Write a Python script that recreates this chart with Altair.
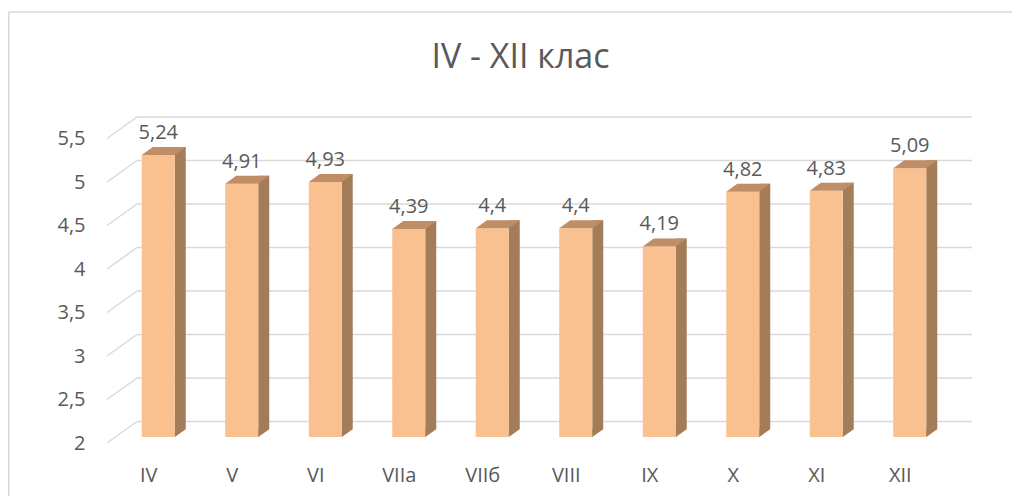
import altair as alt
import pandas as pd

# ---- data ----
categories = ["IV", "V", "VI", "VIIа", "VIIб", "VIII", "IX", "X", "XI", "XII"]
values = [5.24, 4.91, 4.93, 4.39, 4.4, 4.4, 4.19, 4.82, 4.83, 5.09]
value_labels = [str(v).replace(".", ",") for v in values]
y_ticks = [2, 2.5, 3, 3.5, 4, 4.5, 5, 5.5]
title_text = "IV - XII клас"

# ---- style ----
FONT = "Open Sans"
FS = 20
TXT = "#595959"
GRID = "#D9D9D9"
FRONT = "#F9C18F"
SIDE = "#A37C59"
TOP = "#C08E66"

W, H = 835, 304.5
L, T, R, B = 99, 130.5, 70, 53

DX, DY = 30, -21.5        # depth of the back wall
BX, BY = 9.5, -6           # bar front offset from front plane
FW, SW, SD = 33, 11, 8     # front width, side width, side depth

bars = pd.DataFrame({"cat": categories, "value": values, "label": value_labels})
ticks = pd.DataFrame({"value": y_ticks})
one = pd.DataFrame({"value": [2]})

xs = alt.Scale(domain=categories, paddingInner=0, paddingOuter=0)
ys = alt.Scale(domain=[2, 5.5], nice=False, zero=False)

x_axis = alt.Axis(labelFont=FONT, labelFontSize=FS, labelColor=TXT,
                  labelAngle=0, ticks=False, domain=False, grid=False,
                  labelPadding=22)
y_axis = alt.Axis(values=y_ticks, format="~g", labelFont=FONT, labelFontSize=FS,
                  labelColor=TXT, ticks=False, domain=False, grid=False,
                  labelPadding=22,
                  labelExpr="replace(datum.label, '.', ',')")

x_enc = alt.X("cat:N", scale=xs, sort=categories, title=None, axis=x_axis)
y_enc = alt.Y("value:Q", scale=ys, title=None, axis=y_axis)

# chart border (top & left)
border_top = alt.Chart(one).mark_rule(color=GRID, strokeWidth=1.5).encode(
    x=alt.value(-98.25), x2=alt.value(W + R), y=alt.value(12 - 8 - T))
border_left = alt.Chart(one).mark_rule(color=GRID, strokeWidth=1.5).encode(
    x=alt.value(-98.25), y=alt.value(12 - 8 - T), y2=alt.value(H + B))

# back-wall gridlines
grid_back = alt.Chart(ticks).mark_rule(color=GRID, strokeWidth=1.5,
                                       yOffset=DY).encode(
    y=y_enc, x=alt.value(DX), x2=alt.value(972 - 107))
# side-wall diagonals
grid_diag = alt.Chart(ticks).mark_rule(color=GRID, strokeWidth=1.5,
                                       y2Offset=DY).encode(
    y=y_enc, y2="value:Q",
    x=alt.value(0), x2=alt.value(DX))

base = alt.Chart(bars)

side = base.mark_bar(color=SIDE, size=SW, xOffset=BX + FW / 2 + SW / 2,
                     yOffset=BY - SD, y2Offset=BY - SD).encode(
    x=x_enc, y=y_enc, y2=alt.datum(2))

tri_path = "M-1.05,-0.75L1.05,-0.75L-1.05,0.78Z"
side_tri = base.mark_point(shape=tri_path, filled=True, opacity=1, color=SIDE,
                           size=(SW) ** 2,
                           xOffset=BX + FW / 2 + SW / 2,
                           yOffset=BY - SD / 2).encode(
    x=x_enc, y=alt.datum(2))

front = base.mark_bar(color=FRONT, size=FW, xOffset=BX,
                      yOffset=BY, y2Offset=BY).encode(
    x=x_enc, y=y_enc, y2=alt.datum(2))

half = (FW + SW) / 2
top_path = (f"M-1,{SD/2/half:.4f}L{(FW - half)/half:.4f},{SD/2/half:.4f}"
            f"L1,{-SD/2/half:.4f}L{-(FW - half)/half:.4f},{-SD/2/half:.4f}Z")
top = base.mark_point(shape=top_path, filled=True, opacity=1, color=TOP,
                      size=(2 * half) ** 2,
                      xOffset=BX - FW / 2 + half,
                      yOffset=BY - SD / 2).encode(
    x=x_enc, y=y_enc)

labels = base.mark_text(font=FONT, fontSize=FS, color=TXT, align="center",
                        baseline="alphabetic", xOffset=BX, yOffset=BY - 16).encode(
    x=x_enc, y=y_enc, text="label:N")

title = alt.Chart(one).mark_text(font=FONT, fontSize=34, color=TXT,
                                 align="center", baseline="alphabetic").encode(
    x=alt.value(520.5 - 107), y=alt.value(68 - 8 - T), text=alt.value(title_text))

chart = alt.layer(border_top, border_left, grid_back, grid_diag, side, side_tri,
                  front, top, labels, title).properties(
    width=W, height=H,
    autosize=alt.AutoSizeParams(type="none"),
    padding={"left": L, "top": T, "right": R, "bottom": B},
).configure(background="white", view=alt.ViewConfig(stroke=None))

chart.save("out.html", embed_options={"renderer": "svg", "actions": False})
